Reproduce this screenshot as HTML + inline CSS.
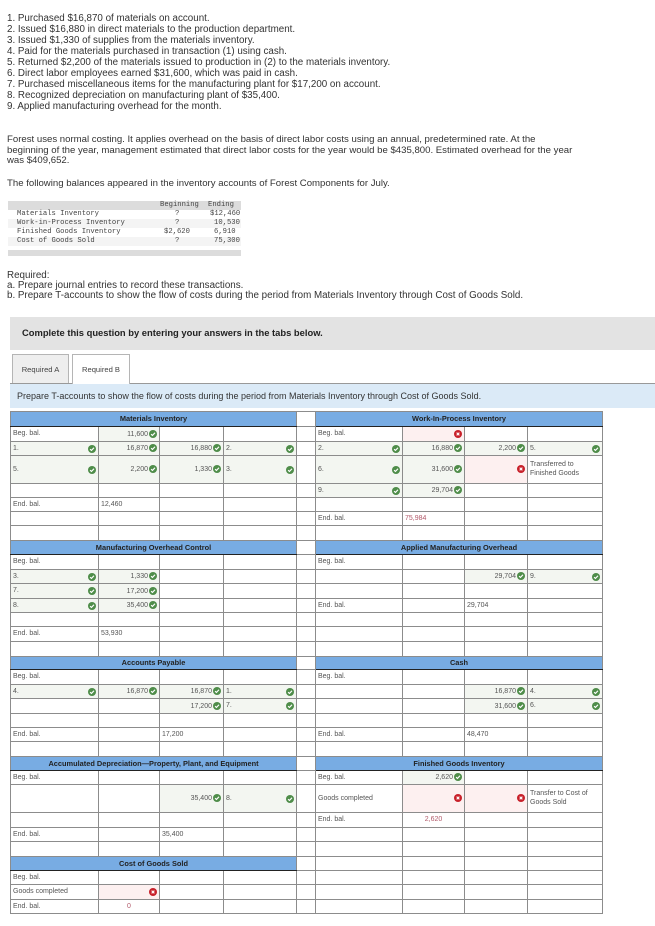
<!DOCTYPE html>
<html><head><meta charset="utf-8">
<style>
*{box-sizing:border-box}
body{margin:0;width:655px;height:926px;background:#fff;font-family:"Liberation Sans",Arial,sans-serif;color:#333;position:relative;overflow:hidden}
.t{position:absolute;left:7px;font-size:9.8px;line-height:11px;white-space:nowrap;color:#333}
.para{position:absolute;left:7px;font-size:9.6px;line-height:10.5px;color:#333;white-space:nowrap}
.mono{position:absolute;left:8px;top:201px;width:233px;height:54px;font-family:"Liberation Mono",monospace;font-size:7.2px;color:#444}
.mono .hd{position:absolute;left:0;top:0;width:233px;height:9px;background:#dcdcdc}
.mono .r{position:absolute;left:0;width:233px;height:9px;line-height:9px}
.mono .ft{position:absolute;left:0;top:49px;width:233px;height:6px;background:#dcdcdc}
.mono span{position:absolute}
.gray{position:absolute;left:10px;top:317px;width:645px;height:33px;background:#e3e3e3;font-size:9.4px;font-weight:bold;color:#222;padding:10px 0 0 12px}
.tab{position:absolute;top:354px;height:30px;border:1px solid #b5b5b5;font-size:7.6px;color:#444;text-align:center;line-height:29px}
.instr{position:absolute;left:10px;top:383px;width:645px;height:25px;background:#dbeaf7;border-top:1px solid #999;font-size:9px;color:#333;padding:7px 0 0 7px;white-space:nowrap}
table{position:absolute;left:10px;top:411px;border-collapse:collapse;table-layout:fixed;font-size:7px;color:#555}
td{border:1px solid #8c8c8c;padding:0 2px;white-space:nowrap;overflow:hidden;vertical-align:middle;line-height:8px}
td.h{background:#78ace3;color:#222;font-weight:bold;text-align:center;font-size:7.4px;border-bottom:1px solid #222}
td.g{background:#f3f6f1}
td.p{background:#fdf0f0}
td.n{text-align:right}
td.tl{border-top:1px solid #222}
td.vl{border-left:1px solid #222}
.ic{display:inline-block;width:8px;height:8px;vertical-align:middle;margin-left:1px}
.fr{float:right}
.red{color:#b25a6a}
</style></head><body>

<div class="t" style="top:13px">1. Purchased $16,870 of materials on account.</div>
<div class="t" style="top:24px">2. Issued $16,880 in direct materials to the production department.</div>
<div class="t" style="top:35px">3. Issued $1,330 of supplies from the materials inventory.</div>
<div class="t" style="top:46px">4. Paid for the materials purchased in transaction (1) using cash.</div>
<div class="t" style="top:57px">5. Returned $2,200 of the materials issued to production in (2) to the materials inventory.</div>
<div class="t" style="top:68px">6. Direct labor employees earned $31,600, which was paid in cash.</div>
<div class="t" style="top:79px">7. Purchased miscellaneous items for the manufacturing plant for $17,200 on account.</div>
<div class="t" style="top:90px">8. Recognized depreciation on manufacturing plant of $35,400.</div>
<div class="t" style="top:101px">9. Applied manufacturing overhead for the month.</div>

<div class="para" style="top:135px">Forest uses normal costing. It applies overhead on the basis of direct labor costs using an annual, predetermined rate. At the<br>beginning of the year, management estimated that direct labor costs for the year would be $435,800. Estimated overhead for the year<br>was $409,652.</div>
<div class="t" style="top:178px;font-size:9.6px">The following balances appeared in the inventory accounts of Forest Components for July.</div>

<div class="mono">
 <div class="hd"><span style="left:152px">Beginning</span><span style="left:200px">Ending</span></div>
 <div class="r" style="top:9px"><span style="left:9px">Materials Inventory</span><span style="left:167px">?</span><span style="left:202px">$12,460</span></div>
 <div class="r" style="top:18px;background:#f4f4f4"><span style="left:9px">Work-in-Process Inventory</span><span style="left:167px">?</span><span style="left:206px">10,530</span></div>
 <div class="r" style="top:27px"><span style="left:9px">Finished Goods Inventory</span><span style="left:156px">$2,620</span><span style="left:206px">6,910</span></div>
 <div class="r" style="top:36px;background:#f4f4f4"><span style="left:9px">Cost of Goods Sold</span><span style="left:167px">?</span><span style="left:206px">75,300</span></div>
 <div class="ft"></div>
</div>

<div class="t" style="top:270px;font-size:9.8px">Required:</div>
<div class="t" style="top:280px;font-size:9.8px">a. Prepare journal entries to record these transactions.</div>
<div class="t" style="top:290px;font-size:9.8px">b. Prepare T-accounts to show the flow of costs during the period from Materials Inventory through Cost of Goods Sold.</div>

<div class="gray">Complete this question by entering your answers in the tabs below.</div>
<div class="tab" style="left:12px;width:57px;background:#eee">Required A</div>
<div class="tab" style="left:72px;width:58px;background:#fff;border-bottom:none;z-index:2;height:30px">Required B</div>
<div class="instr">Prepare T-accounts to show the flow of costs during the period from Materials Inventory through Cost of Goods Sold.</div>

<svg width="0" height="0" style="position:absolute">
<defs>
<symbol id="ck" viewBox="0 0 10 10"><circle cx="5" cy="5" r="5" fill="#4f8d4a"/><polyline points="2.6,5.2 4.3,6.8 7.5,3.4" fill="none" stroke="#fff" stroke-width="1.4"/></symbol>
<symbol id="xx" viewBox="0 0 10 10"><circle cx="5" cy="5" r="5" fill="#c8202a"/><path d="M3.3 3.3L6.7 6.7M6.7 3.3L3.3 6.7" stroke="#fff" stroke-width="1.4"/></symbol>
</defs></svg>

<table>
<colgroup><col style="width:88px"><col style="width:61px"><col style="width:64px"><col style="width:73px"><col style="width:19px"><col style="width:87px"><col style="width:62px"><col style="width:63px"><col style="width:75px"></colgroup>
<tr style="height:15px"><td class="h" colspan="4">Materials Inventory</td><td></td><td class="h" colspan="4">Work-In-Process Inventory</td></tr>
<tr style="height:15px"><td>Beg. bal.</td><td class="g n">11,600<svg class="ic"><use href="#ck"/></svg></td><td class="vl"></td><td></td><td></td><td>Beg. bal.</td><td class="p n"><svg class="ic"><use href="#xx"/></svg></td><td class="vl"></td><td></td></tr>
<tr style="height:14px"><td class="g">1.<svg class="ic fr"><use href="#ck"/></svg></td><td class="g n">16,870<svg class="ic"><use href="#ck"/></svg></td><td class="g n vl">16,880<svg class="ic"><use href="#ck"/></svg></td><td class="g">2.<svg class="ic fr"><use href="#ck"/></svg></td><td></td><td class="g">2.<svg class="ic fr"><use href="#ck"/></svg></td><td class="g n">16,880<svg class="ic"><use href="#ck"/></svg></td><td class="g n vl">2,200<svg class="ic"><use href="#ck"/></svg></td><td class="g">5.<svg class="ic fr"><use href="#ck"/></svg></td></tr>
<tr style="height:28px"><td class="g">5.<svg class="ic fr"><use href="#ck"/></svg></td><td class="g n">2,200<svg class="ic"><use href="#ck"/></svg></td><td class="g n vl">1,330<svg class="ic"><use href="#ck"/></svg></td><td class="g">3.<svg class="ic fr"><use href="#ck"/></svg></td><td></td><td class="g">6.<svg class="ic fr"><use href="#ck"/></svg></td><td class="g n">31,600<svg class="ic"><use href="#ck"/></svg></td><td class="p n vl"><svg class="ic"><use href="#xx"/></svg></td><td style="white-space:normal;line-height:8.5px">Transferred to Finished Goods</td></tr>
<tr style="height:14px"><td></td><td></td><td class="vl"></td><td></td><td></td><td class="g">9.<svg class="ic fr"><use href="#ck"/></svg></td><td class="g n">29,704<svg class="ic"><use href="#ck"/></svg></td><td class="vl"></td><td></td></tr>
<tr style="height:14px"><td>End. bal.</td><td class="tl">12,460</td><td class="tl vl"></td><td></td><td></td><td></td><td></td><td class="vl"></td><td></td></tr>
<tr style="height:14px"><td></td><td></td><td></td><td></td><td></td><td>End. bal.</td><td class="tl red">75,984</td><td class="tl vl"></td><td></td></tr>
<tr style="height:15px"><td></td><td></td><td></td><td></td><td></td><td></td><td></td><td></td><td></td></tr>
<tr style="height:14px"><td class="h" colspan="4">Manufacturing Overhead Control</td><td></td><td class="h" colspan="4">Applied Manufacturing Overhead</td></tr>
<tr style="height:15px"><td>Beg. bal.</td><td></td><td class="vl"></td><td></td><td></td><td>Beg. bal.</td><td></td><td class="vl"></td><td></td></tr>
<tr style="height:14px"><td class="g">3.<svg class="ic fr"><use href="#ck"/></svg></td><td class="g n">1,330<svg class="ic"><use href="#ck"/></svg></td><td class="vl"></td><td></td><td></td><td></td><td></td><td class="g n vl">29,704<svg class="ic"><use href="#ck"/></svg></td><td class="g">9.<svg class="ic fr"><use href="#ck"/></svg></td></tr>
<tr style="height:15px"><td class="g">7.<svg class="ic fr"><use href="#ck"/></svg></td><td class="g n">17,200<svg class="ic"><use href="#ck"/></svg></td><td class="vl"></td><td></td><td></td><td></td><td></td><td class="vl"></td><td></td></tr>
<tr style="height:14px"><td class="g">8.<svg class="ic fr"><use href="#ck"/></svg></td><td class="g n">35,400<svg class="ic"><use href="#ck"/></svg></td><td class="vl"></td><td></td><td></td><td>End. bal.</td><td class="tl"></td><td class="tl vl">29,704</td><td></td></tr>
<tr style="height:14px"><td></td><td></td><td class="vl"></td><td></td><td></td><td></td><td class="tl"></td><td class="tl"></td><td></td></tr>
<tr style="height:15px"><td>End. bal.</td><td class="tl">53,930</td><td class="tl vl"></td><td></td><td></td><td></td><td></td><td></td><td></td></tr>
<tr style="height:15px"><td></td><td></td><td class="tl"></td><td></td><td></td><td></td><td></td><td></td><td></td></tr>
<tr style="height:13px"><td class="h" colspan="4">Accounts Payable</td><td></td><td class="h" colspan="4">Cash</td></tr>
<tr style="height:15px"><td>Beg. bal.</td><td></td><td class="vl"></td><td></td><td></td><td>Beg. bal.</td><td></td><td class="vl"></td><td></td></tr>
<tr style="height:14px"><td class="g">4.<svg class="ic fr"><use href="#ck"/></svg></td><td class="g n">16,870<svg class="ic"><use href="#ck"/></svg></td><td class="g n vl">16,870<svg class="ic"><use href="#ck"/></svg></td><td class="g">1.<svg class="ic fr"><use href="#ck"/></svg></td><td></td><td></td><td></td><td class="g n vl">16,870<svg class="ic"><use href="#ck"/></svg></td><td class="g">4.<svg class="ic fr"><use href="#ck"/></svg></td></tr>
<tr style="height:15px"><td></td><td></td><td class="g n vl">17,200<svg class="ic"><use href="#ck"/></svg></td><td class="g">7.<svg class="ic fr"><use href="#ck"/></svg></td><td></td><td></td><td></td><td class="g n vl">31,600<svg class="ic"><use href="#ck"/></svg></td><td class="g">6.<svg class="ic fr"><use href="#ck"/></svg></td></tr>
<tr style="height:14px"><td></td><td></td><td class="vl"></td><td></td><td></td><td></td><td></td><td class="vl"></td><td></td></tr>
<tr style="height:14px"><td>End. bal.</td><td class="tl"></td><td class="tl vl">17,200</td><td></td><td></td><td>End. bal.</td><td class="tl"></td><td class="tl vl">48,470</td><td></td></tr>
<tr style="height:15px"><td></td><td></td><td></td><td></td><td></td><td></td><td></td><td></td><td></td></tr>
<tr style="height:14px"><td class="h" colspan="4">Accumulated Depreciation—Property, Plant, and Equipment</td><td></td><td class="h" colspan="4">Finished Goods Inventory</td></tr>
<tr style="height:14px"><td>Beg. bal.</td><td></td><td class="vl"></td><td></td><td></td><td>Beg. bal.</td><td class="g n">2,620<svg class="ic"><use href="#ck"/></svg></td><td class="vl"></td><td></td></tr>
<tr style="height:28px"><td></td><td></td><td class="g n vl">35,400<svg class="ic"><use href="#ck"/></svg></td><td class="g">8.<svg class="ic fr"><use href="#ck"/></svg></td><td></td><td>Goods completed</td><td class="p n"><svg class="ic"><use href="#xx"/></svg></td><td class="p n vl"><svg class="ic"><use href="#xx"/></svg></td><td style="white-space:normal;line-height:8.5px">Transfer to Cost of Goods Sold</td></tr>
<tr style="height:15px"><td></td><td></td><td class="vl"></td><td></td><td></td><td>End. bal.</td><td class="tl red" style="text-align:center">2,620</td><td class="tl vl"></td><td></td></tr>
<tr style="height:14px"><td>End. bal.</td><td class="tl"></td><td class="tl vl">35,400</td><td></td><td></td><td></td><td></td><td></td><td></td></tr>
<tr style="height:15px"><td></td><td></td><td></td><td></td><td></td><td></td><td></td><td></td><td></td></tr>
<tr style="height:14px"><td class="h" colspan="4">Cost of Goods Sold</td><td></td><td></td><td></td><td></td><td></td></tr>
<tr style="height:14px"><td>Beg. bal.</td><td></td><td class="vl"></td><td></td><td></td><td></td><td></td><td></td><td></td></tr>
<tr style="height:15px"><td>Goods completed</td><td class="p n"><svg class="ic"><use href="#xx"/></svg></td><td class="vl"></td><td></td><td></td><td></td><td></td><td></td><td></td></tr>
<tr style="height:14px"><td>End. bal.</td><td class="tl red" style="text-align:center">0</td><td class="tl vl"></td><td></td><td></td><td></td><td></td><td></td><td></td></tr>
</table>
</body></html>
